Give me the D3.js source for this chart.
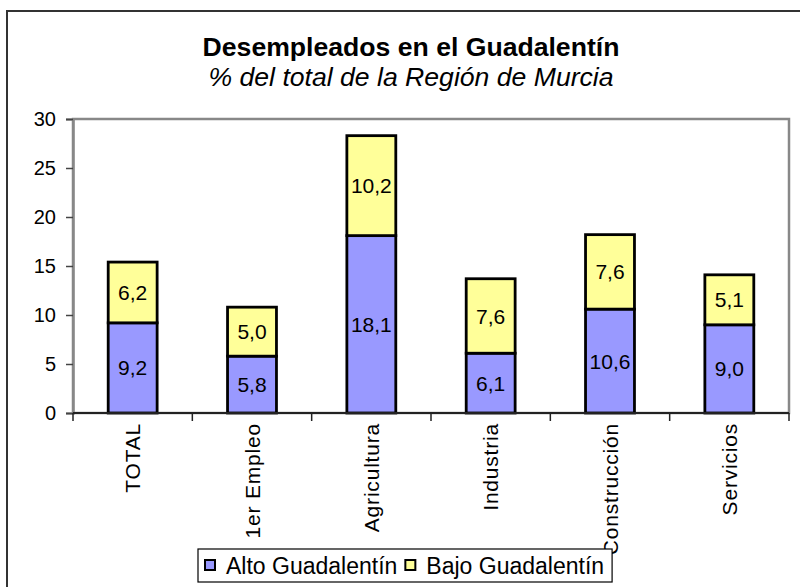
<!DOCTYPE html>
<html>
<head>
<meta charset="utf-8">
<script src="https://cdn.jsdelivr.net/npm/d3@7"></script>
<style>
  body { margin: 0; background: #fff; }
  text { font-family: Arial, "Liberation Sans", sans-serif; fill: #000; }
</style>
</head>
<body>
<script>
// data
var categories = ["TOTAL", "1er Empleo", "Agricultura", "Industria", "Construcción", "Servicios"];
var alto = [9.2, 5.8, 18.1, 6.1, 10.6, 9.0];
var bajo = [6.2, 5.0, 10.2, 7.6, 7.6, 5.1];
var seriesNames = ["Alto Guadalentín", "Bajo Guadalentín"];
var yTicks = [0, 5, 10, 15, 20, 25, 30];

var width = 800, height = 587;
var plot = {left: 73, right: 789, top: 119, bottom: 413};
var colors = ["#9999ff", "#ffff99"];

var svg = d3.select("body").append("svg")
  .attr("width", width)
  .attr("height", height);

// chart frame (only top and left edges visible)
svg.append("path")
  .attr("d", "M7," + height + "V11H" + width)
  .attr("fill", "none")
  .attr("stroke", "#333")
  .attr("stroke-width", 2);

// titles
svg.append("text")
  .attr("x", 411).attr("y", 56)
  .attr("text-anchor", "middle")
  .style("font-size", "26.6px").style("font-weight", "bold")
  .text("Desempleados en el Guadalentín");

svg.append("text")
  .attr("x", 411).attr("y", 86)
  .attr("text-anchor", "middle")
  .style("font-size", "26.6px").style("font-style", "italic")
  .text("% del total de la Región de Murcia");

var x = d3.scaleBand()
  .domain(categories)
  .range([plot.left, plot.right])
  .padding(0);

var y = d3.scaleLinear()
  .domain([0, 30])
  .range([plot.bottom, plot.top]);

var barW = x.bandwidth() * 0.41;

// plot area border
svg.append("rect")
  .attr("x", plot.left).attr("y", plot.top)
  .attr("width", plot.right - plot.left)
  .attr("height", plot.bottom - plot.top)
  .attr("fill", "#fff")
  .attr("stroke", "#888")
  .attr("stroke-width", 2.5);

// stacked data
var rows = categories.map(function(c, i) { return {cat: c, alto: alto[i], bajo: bajo[i]}; });
var stack = d3.stack().keys(["alto", "bajo"]);
var layers = stack(rows);

var g = svg.append("g");
layers.forEach(function(layer, li) {
  var lg = g.append("g");
  lg.selectAll("rect")
    .data(layer)
    .enter().append("rect")
    .attr("x", function(d) { return x(d.data.cat) + (x.bandwidth() - barW) / 2; })
    .attr("y", function(d) { return y(d[1]); })
    .attr("width", barW)
    .attr("height", function(d) { return y(d[0]) - y(d[1]); })
    .attr("fill", colors[li])
    .attr("stroke", "#000")
    .attr("stroke-width", 2.8);

  lg.selectAll("text")
    .data(layer)
    .enter().append("text")
    .attr("x", function(d) { return x(d.data.cat) + x.bandwidth() / 2; })
    .attr("y", function(d) { return (y(d[0]) + y(d[1])) / 2; })
    .attr("dy", "0.36em")
    .attr("text-anchor", "middle")
    .style("font-size", "21px")
    .text(function(d) { return (d[1] - d[0]).toFixed(1).replace(".", ","); });
});

// y axis
var yAxis = d3.axisLeft(y).tickValues(yTicks).tickSize(7).tickPadding(10);
var ya = svg.append("g")
  .attr("transform", "translate(" + plot.left + ",0)")
  .call(yAxis);
ya.select(".domain").attr("stroke", "#888").attr("stroke-width", 2.5);
ya.selectAll(".tick line").attr("stroke", "#444").attr("stroke-width", 1.5);
ya.selectAll(".tick text")
  .style("font-size", "20px")
  .style("font-family", "Arial, 'Liberation Sans', sans-serif")
  .attr("fill", "#000");

// x axis: ticks between categories
svg.append("line")
  .attr("x1", plot.left).attr("x2", plot.right)
  .attr("y1", plot.bottom).attr("y2", plot.bottom)
  .attr("stroke", "#222").attr("stroke-width", 2);

var bounds = categories.map(function(c) { return x(c); }).concat([plot.right]);
svg.selectAll(".xtick")
  .data(bounds)
  .enter().append("line")
  .attr("class", "xtick")
  .attr("x1", function(d) { return d; }).attr("x2", function(d) { return d; })
  .attr("y1", plot.bottom).attr("y2", plot.bottom + 8)
  .attr("stroke", "#222").attr("stroke-width", 1.5);

svg.selectAll(".xlabel")
  .data(categories)
  .enter().append("text")
  .attr("class", "xlabel")
  .attr("transform", function(d) {
    return "translate(" + (x(d) + x.bandwidth() / 2) + "," + (plot.bottom + 10) + ") rotate(-90)";
  })
  .attr("dy", "0.36em")
  .attr("text-anchor", "end")
  .style("font-size", "21px")
  .style("letter-spacing", "0.8px")
  .text(function(d) { return d; });

// legend
var legend = svg.append("g");
var legBox = legend.append("rect")
  .attr("x", 198).attr("y", 549)
  .attr("width", 413).attr("height", 33)
  .attr("fill", "#fff")
  .attr("stroke", "#000")
  .attr("stroke-width", 1.2);

var lx = 205;
seriesNames.forEach(function(name, i) {
  legend.append("rect")
    .attr("x", lx).attr("y", 560)
    .attr("width", 10).attr("height", 10)
    .attr("fill", colors[i])
    .attr("stroke", "#000")
    .attr("stroke-width", 2);
  var t = legend.append("text")
    .attr("x", lx + 21).attr("y", 574)
    .style("font-size", "23px")
    .text(name);
  lx += 21 + t.node().getComputedTextLength() + 8;
});
legBox.attr("width", lx - 198);
</script>
</body>
</html>
